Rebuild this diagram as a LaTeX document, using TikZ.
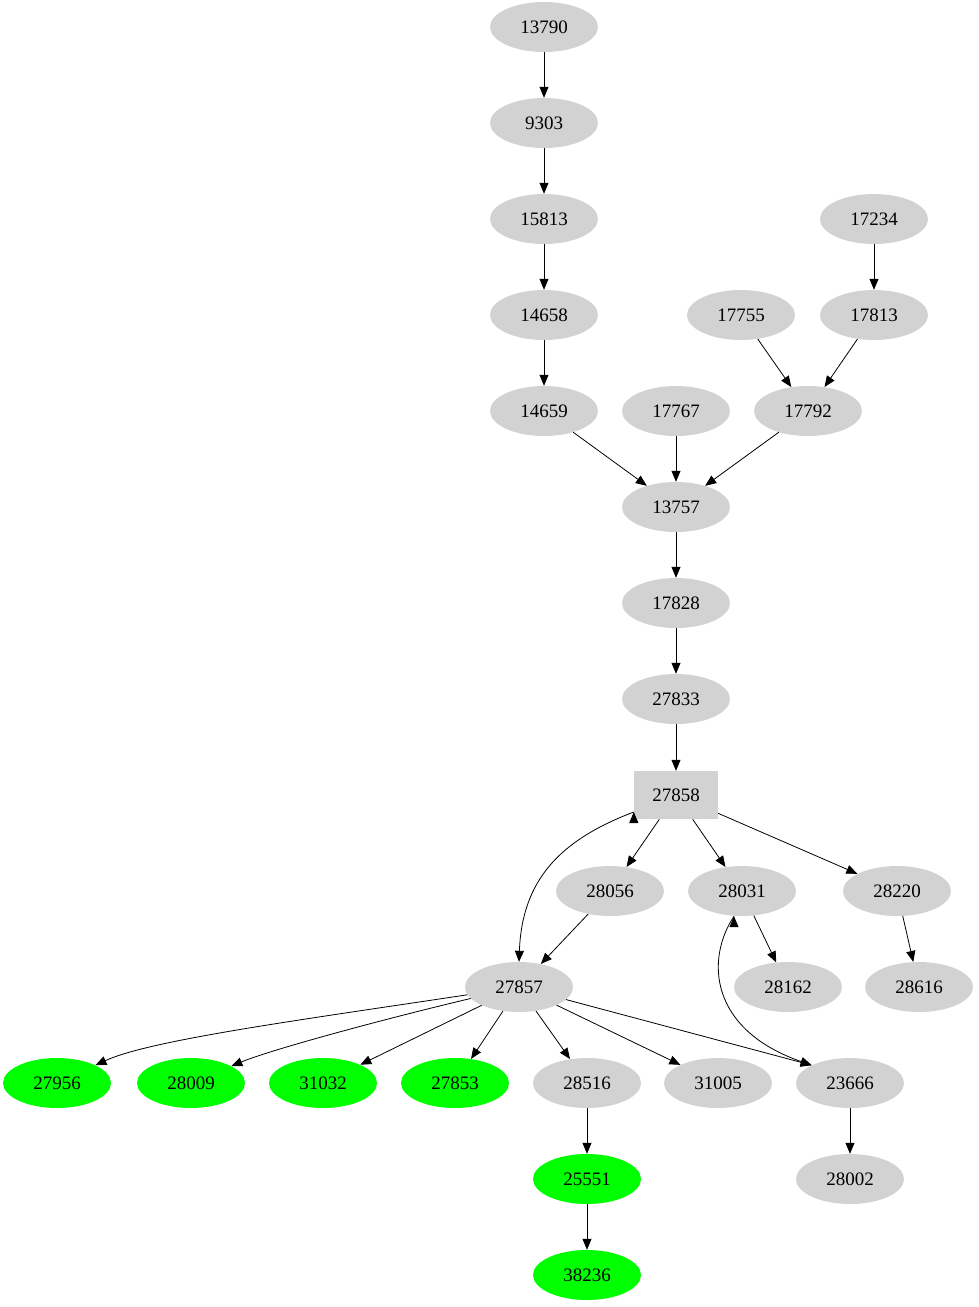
\documentclass[tikz,border=0pt]{standalone}
\usepackage{fontspec}
\setmainfont{Liberation Serif}
\usetikzlibrary{shapes.geometric,arrows.meta}
\begin{document}
\begin{tikzpicture}[x=1pt,y=-1pt,
 nd/.style={ellipse,fill=gray!35,minimum width=108pt,minimum height=50pt,inner sep=0pt,font=\fontsize{19}{21}\selectfont},
 gn/.style={nd,fill=green},
 bx/.style={rectangle,fill=gray!35,minimum width=84pt,minimum height=48pt,inner sep=0pt,font=\fontsize{19}{21}\selectfont},
 e/.style={-{Triangle[length=11pt,width=9pt]},line width=0.8pt}]
\useasboundingbox (0,0) rectangle (979,1307);
\node[nd] (a13790) at (544,27) {13790};
\node[nd] (a9303) at (544,123) {9303};
\node[nd] (a15813) at (544,219) {15813};
\node[nd] (a14658) at (544,315) {14658};
\node[nd] (a14659) at (544,411) {14659};
\node[nd] (a17767) at (676,411) {17767};
\node[nd] (a17792) at (808,411) {17792};
\node[nd] (a17755) at (741,315) {17755};
\node[nd] (a17813) at (874,315) {17813};
\node[nd] (a17234) at (874,219) {17234};
\node[nd] (a13757) at (676,507) {13757};
\node[nd] (a17828) at (676,603) {17828};
\node[nd] (a27833) at (676,699) {27833};
\node[bx] (a27858) at (676,795) {27858};
\node[nd] (a28056) at (610,891) {28056};
\node[nd] (a28031) at (742,891) {28031};
\node[nd] (a28220) at (897,891) {28220};
\node[nd] (a27857) at (519,987) {27857};
\node[nd] (a28162) at (788,987) {28162};
\node[nd] (a28616) at (919,987) {28616};
\node[gn] (a27956) at (57,1083) {27956};
\node[gn] (a28009) at (191,1083) {28009};
\node[gn] (a31032) at (323,1083) {31032};
\node[gn] (a27853) at (455,1083) {27853};
\node[nd] (a28516) at (587,1083) {28516};
\node[nd] (a31005) at (718,1083) {31005};
\node[nd] (a23666) at (850,1083) {23666};
\node[gn] (a25551) at (587,1179) {25551};
\node[nd] (a28002) at (850,1179) {28002};
\node[gn] (a38236) at (587,1275) {38236};
\draw[e] (a13790)--(a9303);
\draw[e] (a9303)--(a15813);
\draw[e] (a15813)--(a14658);
\draw[e] (a14658)--(a14659);
\draw[e] (a17234)--(a17813);
\draw[e] (a17755)--(a17792);
\draw[e] (a17813)--(a17792);
\draw[e] (a14659)--(a13757);
\draw[e] (a17767)--(a13757);
\draw[e] (a17792)--(a13757);
\draw[e] (a13757)--(a17828);
\draw[e] (a17828)--(a27833);
\draw[e] (a27833)--(a27858);
\draw[e] (a27858.west) ++(0,17) coordinate (s1);
\draw[e] (s1) .. controls (560,840) and (522,880) .. (a27857.north);
\draw[e] (a27858)--(a28056);
\draw[e] (a27858)--(a28031);
\draw[e] (a27858)--(a28220);
\draw[e] (a28056)--(a27857);
\draw[e] (a28031)--(a28162);
\draw[e] (a28220)--(a28616);
\draw[e] (a28031.south) ++(-8,0) coordinate (s2);
\draw[e] (s2) .. controls (705,960) and (710,1030) .. (a23666.north west);
\draw[e] (a27857) .. controls (300,1020) and (150,1040) .. (a27956);
\draw[e] (a27857) .. controls (380,1020) and (270,1050) .. (a28009);
\draw[e] (a27857)--(a31032);
\draw[e] (a27857)--(a27853);
\draw[e] (a27857)--(a28516);
\draw[e] (a27857)--(a31005);
\draw[e] (a27857)--(a23666.north west);
\draw[e] (a28516)--(a25551);
\draw[e] (a25551)--(a38236);
\draw[e] (a23666)--(a28002);
\end{tikzpicture}
\end{document}
